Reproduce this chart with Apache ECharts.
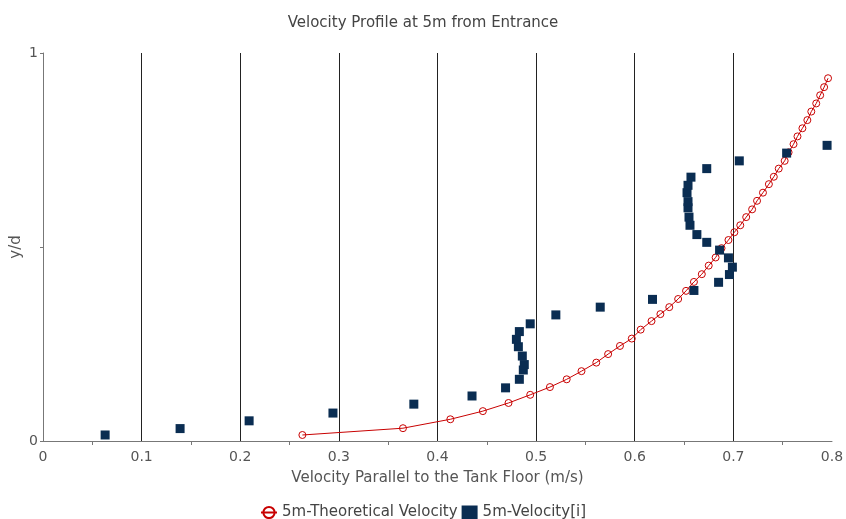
<!DOCTYPE html>
<html>
<head>
    <meta charset="UTF-8">
    <title>Velocity Profile at 5m from Entrance</title>
    <script src="https://cdn.jsdelivr.net/npm/echarts@6/dist/echarts.min.js"></script>
    <style>
        html, body { margin: 0; padding: 0; background: #fff; }
        #main { width: 846px; height: 519px; }
    </style>
</head>
<body>
    <div id="main"></div>

    <script>
        // theoretical velocity profile (x = velocity m/s, y = y/d)
        const theoX = [0.263, 0.365, 0.413, 0.446, 0.472, 0.494, 0.514, 0.531, 0.546, 0.561,
            0.573, 0.585, 0.597, 0.606, 0.617, 0.626, 0.635, 0.644, 0.652, 0.660,
            0.668, 0.675, 0.682, 0.688, 0.695, 0.701, 0.707, 0.713, 0.719, 0.724,
            0.730, 0.736, 0.741, 0.746, 0.752, 0.756, 0.761, 0.765, 0.770, 0.775,
            0.779, 0.784, 0.788, 0.792, 0.796];
        const theoY = [0.0155, 0.033, 0.056, 0.077, 0.098, 0.119, 0.139, 0.159, 0.180, 0.202,
            0.224, 0.245, 0.264, 0.287, 0.309, 0.327, 0.345, 0.366, 0.387, 0.410,
            0.430, 0.452, 0.473, 0.497, 0.518, 0.538, 0.556, 0.577, 0.597, 0.619,
            0.640, 0.662, 0.681, 0.702, 0.722, 0.744, 0.765, 0.785, 0.806, 0.827,
            0.849, 0.870, 0.891, 0.912, 0.935];

        // measured velocities
        const measX = [0.063, 0.139, 0.209, 0.294, 0.376, 0.435, 0.469, 0.483, 0.487, 0.488,
            0.486, 0.482, 0.480, 0.483, 0.494, 0.520, 0.565, 0.618, 0.660, 0.685,
            0.696, 0.699, 0.695, 0.686, 0.673, 0.663, 0.656, 0.655, 0.654, 0.654,
            0.653, 0.654, 0.657, 0.673, 0.706, 0.754, 0.795];
        const measY = [0.0155, 0.032, 0.052, 0.072, 0.095, 0.116, 0.137, 0.159, 0.183, 0.197,
            0.219, 0.243, 0.262, 0.282, 0.302, 0.325, 0.345, 0.365, 0.388, 0.409,
            0.429, 0.448, 0.472, 0.492, 0.512, 0.532, 0.556, 0.577, 0.601, 0.617,
            0.640, 0.659, 0.680, 0.702, 0.722, 0.742, 0.762];

        const seriesNames = ['5m-Theoretical Velocity', '5m-Velocity[i]'];

        const font = 'DejaVu Sans';
        const red = '#c80000';
        const navy = '#0a2d52';
        const chart = echarts.init(document.getElementById('main'));
        const option = {
            animation: false,
            textStyle: { fontFamily: font },
            title: {
                text: 'Velocity Profile at 5m from Entrance',
                left: 'center',
                top: 11,
                textStyle: { fontSize: 15, fontWeight: 'normal', color: '#444', fontFamily: font }
            },
            grid: { left: 43, right: 14, top: 53, bottom: 78, outerBoundsMode: 'none' },
            legend: {
                top: 500,
                left: 'center',
                itemGap: 4,
                itemWidth: 16,
                itemHeight: 14,
                textStyle: { fontSize: 15, color: '#444', fontFamily: font },
                data: [
                    { name: seriesNames[0] },
                    { name: seriesNames[1], icon: 'rect' }
                ]
            },
            xAxis: {
                type: 'value',
                min: 0,
                max: 0.8,
                interval: 0.1,
                name: 'Velocity Parallel to the Tank Floor (m/s)',
                nameLocation: 'middle',
                nameGap: 30,
                nameTextStyle: { fontSize: 15, color: '#555' },
                axisLine: { lineStyle: { color: '#777' } },
                axisTick: { show: false },
                minorTick: { show: true, splitNumber: 2, length: 4, lineStyle: { color: '#777' } },
                axisLabel: {
                    margin: 9, fontSize: 14, color: '#555',
                    formatter: v => v === 0 ? '0' : v.toFixed(1)
                },
                splitLine: {
                    show: true, showMinLine: false, showMaxLine: false,
                    lineStyle: { color: '#222', width: 1 }
                }
            },
            yAxis: {
                type: 'value',
                min: 0,
                max: 1,
                interval: 0.5,
                name: 'y/d',
                nameLocation: 'middle',
                nameGap: 19,
                nameMoveOverlap: false,
                nameTextStyle: { fontSize: 15, color: '#555' },
                axisLine: { show: true, lineStyle: { color: '#777' } },
                axisTick: { show: true, length: 3, lineStyle: { color: '#777' } },
                axisLabel: {
                    margin: 5, fontSize: 14, color: '#555',
                    formatter: v => (v === 0 || v === 1) ? String(v) : ''
                },
                splitLine: { show: false }
            },
            series: [
                {
                    name: seriesNames[0],
                    type: 'line',
                    data: theoX.map((x, i) => [x, theoY[i]]),
                    symbol: 'circle',
                    symbolSize: 7,
                    showAllSymbol: true,
                    lineStyle: { color: red, width: 1 },
                    itemStyle: { color: 'rgba(255,255,255,0)', borderColor: red, borderWidth: 1 }
                },
                {
                    name: seriesNames[1],
                    type: 'scatter',
                    data: measX.map((x, i) => [x, measY[i]]),
                    symbol: 'rect',
                    symbolSize: 9,
                    itemStyle: { color: navy, opacity: 1 },
                    z: 3
                }
            ]
        };
        chart.setOption(option);
    </script>
</body>
</html>
